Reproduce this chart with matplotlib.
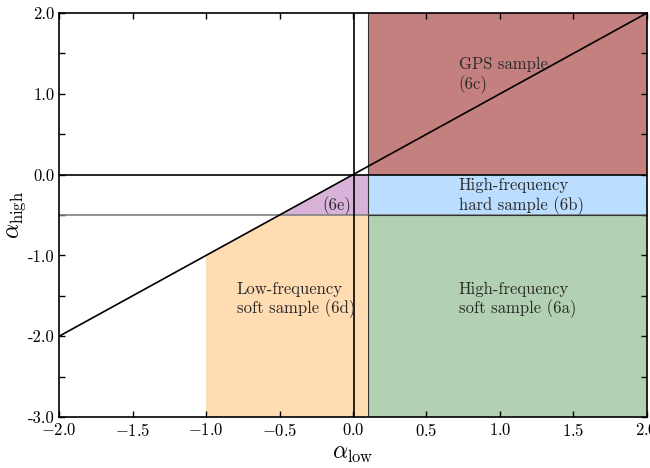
import matplotlib
matplotlib.use('Agg')
import matplotlib.pyplot as plt
import numpy as np

plt.rcParams['font.family'] = ['cmr10', 'DejaVu Serif']
plt.rcParams['mathtext.fontset'] = 'cm'
plt.rcParams['axes.formatter.use_mathtext'] = True

# region boundaries
x_split = 0.1      # alpha_low border of high-frequency samples
x_low = -1.0       # left edge of low-frequency sample
y_split = 0.0      # alpha_high upper border
y_hard = -0.5      # hard / soft border
x_vline = 0.01

# diagonal alpha_high = alpha_low
diag_x = [-2.0, 2.0]
diag_y = [-2.0, 2.0]

xtick_vals = [-2.0, -1.5, -1.0, -0.5, 0.0, 0.5, 1.0, 1.5, 2.0]
ytick_vals = [-3.0, -2.5, -2.0, -1.5, -1.0, -0.5, 0.0, 0.5, 1.0, 1.5, 2.0]
ytick_labels = ['-3.0', '', '-2.0', '', '-1.0', '', '0.0', '', '1.0', '', '2.0']

fig = plt.figure(figsize=(6.5, 4.68), dpi=100)
ax = fig.add_axes([0.091, 0.109, 0.904, 0.863])

xmin, xmax, ymin, ymax = -2.0, 2.0, -3.0, 2.0

# GPS sample
ax.fill([x_split, xmax, xmax, x_split], [y_split, y_split, ymax, ymax],
        color='darkred', alpha=0.5, lw=0)
# high-frequency hard
ax.fill([x_split, xmax, xmax, x_split], [y_hard, y_hard, y_split, y_split],
        color='dodgerblue', alpha=0.3, lw=0)
# high-frequency soft
ax.fill([x_split, xmax, xmax, x_split], [ymin, ymin, y_hard, y_hard],
        color='darkgreen', alpha=0.3, lw=0)
# low-frequency soft
ax.fill([x_low, x_split, x_split, y_hard, x_low], [ymin, ymin, y_hard, y_hard, x_low],
        color='darkorange', alpha=0.3, lw=0)
# (6e)
ax.fill([y_hard, x_split, x_split, y_split], [y_hard, y_hard, y_split, y_split],
        color='purple', alpha=0.3, lw=0)

# borders
ax.plot([x_split, x_split], [ymin, ymax], color='#333333', lw=0.8)
ax.axhline(y_hard, color='gray', lw=1.2)
ax.plot([x_split, xmax], [y_hard, y_hard], color='#333333', lw=0.8)
ax.axhline(y_split, color='black', lw=1.2)
ax.axvline(x_vline, color='black', lw=1.2)
ax.plot(diag_x, diag_y, color='black', lw=1.2)

tc = '#2a2a2a'
fs = 12
ax.text(0.72, 1.23, 'GPS sample\n(6c)', fontsize=fs, color=tc, va='center', ha='left', linespacing=1.2)
ax.text(0.72, -0.27, 'High-frequency\nhard sample (6b)', fontsize=fs, color=tc, va='center', ha='left', linespacing=1.2)
ax.text(0.72, -1.55, 'High-frequency\nsoft sample (6a)', fontsize=fs, color=tc, va='center', ha='left', linespacing=1.2)
ax.text(-0.79, -1.55, 'Low-frequency\nsoft sample (6d)', fontsize=fs, color=tc, va='center', ha='left', linespacing=1.2)
ax.text(-0.01, -0.38, '(6e)', fontsize=fs, color=tc, va='center', ha='right')

ax.set_xlim(xmin, xmax)
ax.set_ylim(ymin, ymax)
ax.set_xticks(xtick_vals)
ax.set_xticklabels(['$%.1f$' % v for v in xtick_vals])
ax.set_yticks(ytick_vals)
ax.set_yticklabels(ytick_labels)
ax.tick_params(direction='in', top=True, right=True, length=4, labelsize=12, width=1)
for s in ax.spines.values():
    s.set_linewidth(1.2)

ax.set_xlabel(r'$\alpha_{\rm low}$', fontsize=17, labelpad=3)
ax.set_ylabel(r'$\alpha_{\rm high}$', fontsize=17, labelpad=0)

fig.savefig('out.png', dpi=100)
